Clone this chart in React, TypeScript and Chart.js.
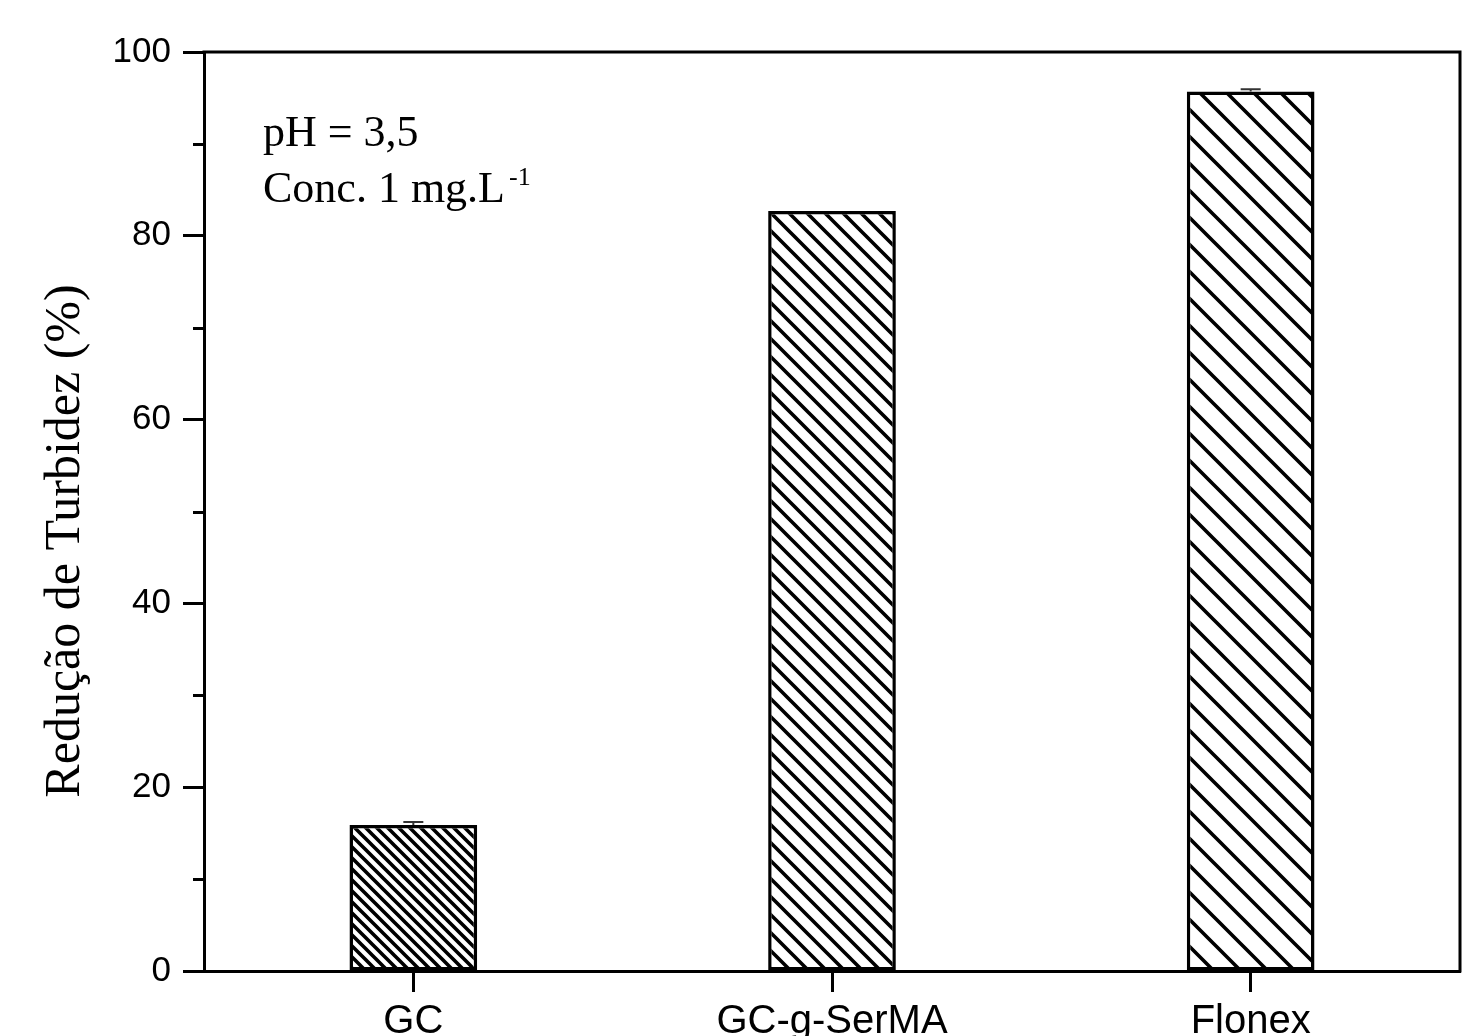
import React, { useEffect, useRef } from "react";
import { Chart, registerables } from "chart.js";

Chart.register(...registerables);

const categories = ["GC", "GC-g-SerMA", "Flonex"];
const reducao = [15.9, 82.7, 95.7];
const erro = [0.3, 0, 0.25];
const hatchSpacing = [11, 18, 27];
const hatchWidth = [3.6, 3.6, 3.6];
const yMajorTicks = [0, 20, 40, 60, 80, 100];
const yMinorTicks = [10, 30, 50, 70, 90];
const annotLine1 = "pH = 3,5";
const annotLine2 = "Conc. 1 mg.L";
const annotSup = "-1";
const yTitle = "Redução de Turbidez (%)";

function makeHatch(s: number, w: number): CanvasPattern | string {
  const c = document.createElement("canvas");
  c.width = s;
  c.height = s;
  const g = c.getContext("2d");
  if (!g) return "#fff";
  g.fillStyle = "#fff";
  g.fillRect(0, 0, s, s);
  g.strokeStyle = "#000";
  g.lineWidth = w;
  g.beginPath();
  for (let k = -1; k <= 1; k++) {
    g.moveTo(k * s - s, -s);
    g.lineTo(k * s + 2 * s, 2 * s);
  }
  g.stroke();
  const p = g.createPattern(c, "repeat");
  return p || "#fff";
}

const W = 1462;
const H = 1080;

export default function App() {
  const ref = useRef<HTMLCanvasElement | null>(null);

  useEffect(() => {
    document.body.style.margin = "0";
    document.body.style.overflow = "hidden";
    const canvas = ref.current;
    if (!canvas) return;
    const patterns = hatchSpacing.map((s, i) => makeHatch(s, hatchWidth[i]));

    const extras = {
      id: "extras",
      afterDatasetsDraw(chart: any) {
        const ctx = chart.ctx;
        const { left, right, top, bottom } = chart.chartArea;
        const x = chart.scales.x;
        const y = chart.scales.y;
        ctx.save();
        // frame top and right
        ctx.strokeStyle = "#000";
        ctx.lineWidth = 3;
        ctx.beginPath();
        ctx.moveTo(left - 1.5, top);
        ctx.lineTo(right, top);
        ctx.lineTo(right, bottom + 1.5);
        ctx.stroke();
        // minor ticks
        ctx.lineWidth = 3;
        ctx.beginPath();
        yMinorTicks.forEach((v) => {
          const py = Math.round(y.getPixelForValue(v)) + 0.5;
          ctx.moveTo(left, py);
          ctx.lineTo(left - 11, py);
        });
        ctx.stroke();
        // error bars
        ctx.strokeStyle = "#333";
        ctx.lineWidth = 2;
        reducao.forEach((v, i) => {
          const e = erro[i];
          if (!e) return;
          const px = x.getPixelForValue(i);
          const y1 = y.getPixelForValue(v + e);
          const y0 = y.getPixelForValue(v);
          ctx.beginPath();
          ctx.moveTo(px, y0);
          ctx.lineTo(px, y1);
          ctx.moveTo(px - 10, y1);
          ctx.lineTo(px + 10, y1);
          ctx.stroke();
        });
        // annotation
        ctx.fillStyle = "#000";
        ctx.textBaseline = "alphabetic";
        ctx.textAlign = "left";
        ctx.font = '44px "Liberation Serif", "Times New Roman", serif';
        ctx.fillText(annotLine1, 263, 146);
        ctx.fillText(annotLine2, 263, 202);
        const wL = ctx.measureText(annotLine2).width;
        ctx.font = '26px "Liberation Serif", "Times New Roman", serif';
        ctx.fillText(annotSup, 263 + wL + 4, 185);
        // y title
        ctx.save();
        ctx.translate(79, 541);
        ctx.rotate(-Math.PI / 2);
        ctx.textAlign = "center";
        ctx.textBaseline = "alphabetic";
        ctx.font = '50px "Liberation Serif", "Times New Roman", serif';
        ctx.fillText(yTitle, 0, 0);
        ctx.restore();
        ctx.restore();
      },
    };

    const chart = new Chart(canvas, {
      type: "bar",
      data: {
        labels: categories,
        datasets: [
          {
            data: reducao,
            backgroundColor: patterns as any,
            borderColor: "#000",
            borderWidth: 3.5,
            borderSkipped: false,
            barPercentage: 0.305,
            categoryPercentage: 1,
          },
        ],
      },
      options: {
        responsive: false,
        animation: false,
        devicePixelRatio: 1,
        layout: { padding: { top: 52, right: 2, left: 0, bottom: 0 } },
        plugins: {
          legend: { display: false },
          tooltip: { enabled: false },
        },
        scales: {
          x: {
            offset: true,
            grid: {
              offset: false,
              drawOnChartArea: false,
              drawTicks: true,
              tickLength: 21,
              tickWidth: 3,
              tickColor: "#000",
            },
            border: { display: true, width: 3, color: "#000" },
            ticks: {
              color: "#000",
              padding: 6,
              font: { family: '"Liberation Sans", Arial, sans-serif', size: 40 },
              maxRotation: 0,
            },
            afterFit(scale: any) {
              scale.height = H - 971;
            },
          },
          y: {
            min: 0,
            max: 100,
            afterBuildTicks(scale: any) {
              scale.ticks = yMajorTicks.map((v) => ({ value: v }));
            },
            grid: {
              drawOnChartArea: false,
              drawTicks: true,
              tickLength: 21,
              tickWidth: 3,
              tickColor: "#000",
            },
            border: { display: true, width: 3, color: "#000" },
            ticks: {
              color: "#000",
              padding: 12,
              font: { family: '"Liberation Sans", Arial, sans-serif', size: 35 },
            },
            title: { display: false },
            afterFit(scale: any) {
              scale.width = 204;
            },
          },
        },
      },
      plugins: [extras],
    });
    return () => chart.destroy();
  }, []);

  return (
    <div style={{ position: "fixed", left: 0, top: 0, width: W, height: 1036, overflow: "hidden", background: "#fff" }}>
      <canvas ref={ref} width={W} height={H} style={{ display: "block", width: W, height: H }} />
    </div>
  );
}
